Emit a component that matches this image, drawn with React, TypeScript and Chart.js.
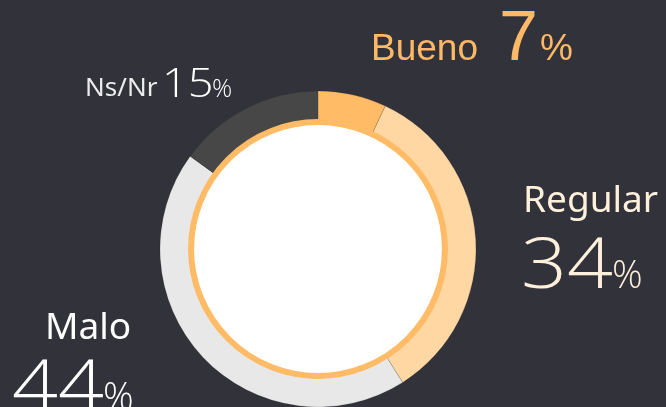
import React, { useEffect, useRef } from "react";
import { Chart, registerables } from "chart.js";

Chart.register(...registerables);

const categories = ["Bueno", "Regular", "Malo", "Ns/Nr"];
const values = [7, 34, 44, 15];
const colors = ["#FFBB66", "#FFD7A3", "#E8E8E8", "#474747"];

const BG = "#32323B";
const RING = "#FFBB66";

const innerRing = {
  id: "innerRing",
  afterDatasetsDraw(chart: any) {
    const arc = chart.getDatasetMeta(0).data[0];
    if (!arc) return;
    const { x, y, innerRadius } = arc.getProps(["x", "y", "innerRadius"], true);
    const ctx = chart.ctx;
    ctx.save();
    ctx.beginPath();
    ctx.arc(x, y, innerRadius - 2, 0, Math.PI * 2);
    ctx.fillStyle = "#FFFFFF";
    ctx.fill();
    ctx.lineWidth = 6;
    ctx.strokeStyle = RING;
    ctx.stroke();
    ctx.restore();
  },
};

const LIB = "'Liberation Sans', Arial, sans-serif";
const NOTO = "'Noto Sans', sans-serif";
const OPEN = "'Open Sans', 'Noto Sans', sans-serif";

type TProps = {
  x: number;
  base: number;
  size: number;
  font: string;
  color: string;
  weight?: number;
  sx?: number;
  children: React.ReactNode;
};

function T({ x, base, size, font, color, weight = 400, sx = 1, children }: TProps) {
  const k = font === LIB ? 0.8465 : 0.888;
  return (
    <div
      style={{
        position: "absolute",
        left: x,
        top: base - k * size,
        fontFamily: font,
        fontSize: size,
        fontWeight: weight,
        lineHeight: 1,
        color,
        whiteSpace: "nowrap",
        transform: sx !== 1 ? `scaleX(${sx})` : undefined,
        transformOrigin: "left center",
      }}
    >
      {children}
    </div>
  );
}

export default function App() {
  const ref = useRef<HTMLCanvasElement>(null);

  useEffect(() => {
    document.body.style.margin = "0";
    const canvas = ref.current!;
    const chart = new Chart(canvas, {
      type: "doughnut",
      data: {
        labels: categories,
        datasets: [
          {
            data: values,
            backgroundColor: colors,
            borderColor: "rgba(0,0,0,0.12)",
            borderWidth: 1,
          },
        ],
      },
      options: {
        responsive: false,
        animation: false,
        devicePixelRatio: 1,
        radius: 158,
        cutout: "81.6%",
        layout: { padding: { left: 0, right: 30, top: 91, bottom: 0 } },
        plugins: {
          legend: { display: false },
          tooltip: { enabled: false },
        },
      } as any,
      plugins: [innerRing],
    });
    return () => chart.destroy();
  }, []);

  const cBueno = "#FFB966";
  const cRegular = "#FFF0DC";
  const cMalo = "#FFFFFF";
  const cNs = "#EDEDED";

  return (
    <div
      style={{
        position: "relative",
        width: 666,
        height: 407,
        background: BG,
        overflow: "hidden",
      }}
    >
      <canvas
        ref={ref}
        width={666}
        height={407}
        style={{ position: "absolute", left: 0, top: 0, width: 666, height: 407 }}
      />
      {/* Bueno */}
      <T x={371} base={60} size={37} font={LIB} color={cBueno}>{categories[0]}</T>
      <T x={499} base={60} size={70} font={LIB} color={cBueno}>{values[0]}</T>
      <T x={540} base={60} size={37} font={LIB} color={cBueno}>%</T>

      {/* Regular */}
      <T x={523} base={212} size={37} font={NOTO} color={cRegular}>{categories[1]}</T>
      <T x={521} base={288} size={70} font={OPEN} weight={300} sx={1.15} color={cRegular}>{values[1]}</T>
      <T x={612} base={288} size={38} font={OPEN} weight={300} color={cRegular}>%</T>

      {/* Malo */}
      <T x={45} base={339} size={37} font={NOTO} color={cMalo}>{categories[2]}</T>
      <T x={12} base={410} size={70} font={OPEN} weight={300} sx={1.15} color={cMalo}>{values[2]}</T>
      <T x={103} base={410} size={38} font={OPEN} weight={300} color={cMalo}>%</T>

      {/* Ns/Nr */}
      <T x={85} base={96} size={26} font={NOTO} color={cNs}>{categories[3]}</T>
      <T x={162} base={97} size={41} font={OPEN} weight={300} sx={1.1} color={cMalo}>{values[3]}</T>
      <T x={212} base={97} size={25} font={OPEN} weight={300} color={cMalo}>%</T>
    </div>
  );
}
